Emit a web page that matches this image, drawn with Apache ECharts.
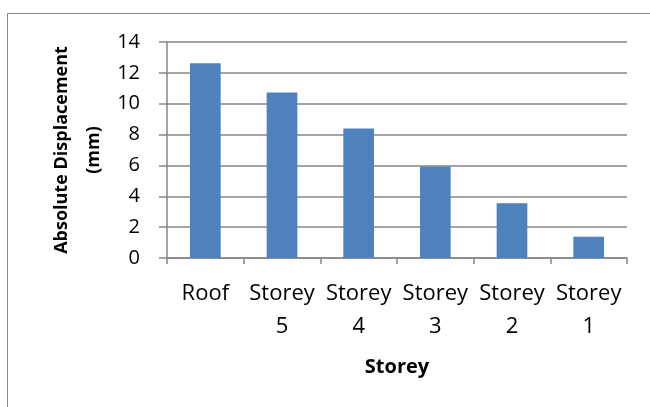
<!DOCTYPE html>
<html>
<head>
<meta charset="utf-8">
<script src="https://cdn.jsdelivr.net/npm/echarts@6/dist/echarts.min.js"></script>
<style>
  html, body { margin: 0; padding: 0; background: #fff; }
  #chart { width: 650px; height: 407px; }
</style>
</head>
<body>
<div id="chart"></div>
<script>
var categories = ['Roof', 'Storey\n5', 'Storey\n4', 'Storey\n3', 'Storey\n2', 'Storey\n1'];
var displacement = [12.63, 10.73, 8.4, 5.93, 3.55, 1.38];
var yTicks = [0, 2, 4, 6, 8, 10, 12, 14];

var myChart = echarts.init(document.getElementById('chart'));
var option = {
    animation: false,
    textStyle: {
        fontFamily: 'Open Sans'
    },
    graphic: [
        {
            type: 'rect',
            shape: { x: 7.5, y: 13.5, width: 660, height: 420 },
            style: { fill: 'none', stroke: '#868686', lineWidth: 1 }
        },
        {
            // y axis title, two lines, rotated like Excel
            type: 'text',
            x: 78,
            y: 150,
            rotation: Math.PI / 2,
            style: {
                text: 'Absolute Displacement\n(mm)',
                font: 'bold 18px "Open Sans"',
                fill: '#000',
                align: 'center',
                verticalAlign: 'middle',
                lineHeight: 32
            }
        }
    ],
    grid: {
        left: 167,
        right: 23,
        top: 42,
        bottom: 149,
        containLabel: false
    },
    xAxis: {
        type: 'category',
        data: categories,
        name: 'Storey',
        nameLocation: 'middle',
        nameGap: 109,
        nameTextStyle: {
            fontSize: 20,
            fontWeight: 'bold',
            color: '#000',
            verticalAlign: 'middle'
        },
        axisLine: { lineStyle: { color: '#868686', width: 1.5 } },
        axisTick: { show: true, length: 6, lineStyle: { color: '#868686', width: 1.5 } },
        axisLabel: {
            color: '#000',
            fontSize: 22,
            lineHeight: 33,
            margin: 19,
            interval: 0
        }
    },
    yAxis: {
        type: 'value',
        min: yTicks[0],
        max: yTicks[yTicks.length - 1],
        interval: 2,
        axisLine: { show: true, lineStyle: { color: '#868686', width: 1.5 } },
        axisTick: { show: true, length: 8, lineStyle: { color: '#868686', width: 1.5 } },
        axisLabel: {
            color: '#000',
            fontSize: 20,
            margin: 27
        },
        splitLine: { show: true, lineStyle: { color: '#868686', width: 1.5 } }
    },
    series: [
        {
            type: 'bar',
            data: displacement,
            barWidth: '40%',
            itemStyle: { color: '#4F81BD' }
        }
    ]
};
myChart.setOption(option);
</script>
</body>
</html>
